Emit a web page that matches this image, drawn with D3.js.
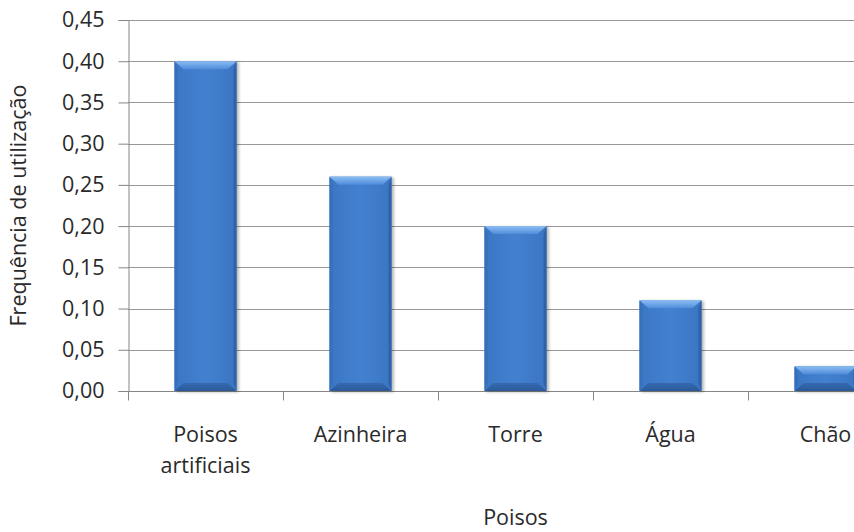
<!DOCTYPE html>
<html>
<head>
<meta charset="utf-8">
<script src="https://cdn.jsdelivr.net/npm/d3@7"></script>
<style>
  html, body { margin: 0; padding: 0; background: #fff; }
  svg { display: block; }
  text { font-family: "Open Sans", "Liberation Sans", sans-serif; fill: #2a2a2a; }
</style>
</head>
<body>
<svg id="chart" width="854" height="532"></svg>
<script>
// Frequência de utilização por tipo de poiso
const categories = ["Poisos artificiais", "Azinheira", "Torre", "Água", "Chão"];
const values = [0.40, 0.26, 0.20, 0.11, 0.03];
const yTicks = [0, 0.05, 0.10, 0.15, 0.20, 0.25, 0.30, 0.35, 0.40, 0.45];
const xTitle = "Poisos";
const yTitle = "Frequência de utilização";

const svg = d3.select("#chart");
const plot = { left: 128, right: 903, top: 20, bottom: 391 };
const fontSize = 21.5;

const x = d3.scaleBand().domain(categories).range([plot.left, plot.right]).padding(0);
const y = d3.scaleLinear().domain([0, 0.45]).range([plot.bottom, plot.top]);
const barW = x.bandwidth() / 2.5; // gap width 150%

const defs = svg.append("defs");
const topGrad = defs.append("linearGradient").attr("id", "bevelTop").attr("x1", 0).attr("y1", 0).attr("x2", 0).attr("y2", 1);
topGrad.append("stop").attr("offset", "0%").attr("stop-color", "#8cbdf3");
topGrad.append("stop").attr("offset", "100%").attr("stop-color", "#4f8cda");
const bottomGrad = defs.append("linearGradient").attr("id", "bevelBottom").attr("x1", 0).attr("y1", 0).attr("x2", 0).attr("y2", 1);
bottomGrad.append("stop").attr("offset", "0%").attr("stop-color", "#3569b0");
bottomGrad.append("stop").attr("offset", "100%").attr("stop-color", "#2b5a99");
const bodyGrad = defs.append("linearGradient").attr("id", "body").attr("x1", 0).attr("y1", 0).attr("x2", 1).attr("y2", 0);
bodyGrad.append("stop").attr("offset", "0%").attr("stop-color", "#3a76c4");
bodyGrad.append("stop").attr("offset", "50%").attr("stop-color", "#4381d0");
bodyGrad.append("stop").attr("offset", "100%").attr("stop-color", "#3a75c2");
const shadow = defs.append("filter").attr("id", "shadow").attr("x", "-20%").attr("y", "-20%").attr("width", "140%").attr("height", "140%");
shadow.append("feDropShadow").attr("dx", 2).attr("dy", 1).attr("stdDeviation", 1.6)
  .attr("flood-color", "#000").attr("flood-opacity", 0.3);

// gridlines
const grid = svg.append("g");
grid.selectAll("line").data(yTicks.filter(d => d > 0)).join("line")
  .attr("x1", plot.left).attr("x2", plot.right)
  .attr("y1", d => Math.round(y(d)) + 0.5).attr("y2", d => Math.round(y(d)) + 0.5)
  .attr("stroke", "#979797").attr("stroke-width", 1);

// y axis
const yAxis = d3.axisLeft(y).tickValues(yTicks).tickSize(10).tickPadding(14)
  .tickFormat(d => d3.format(".2f")(d).replace(".", ","));
const gy = svg.append("g").attr("transform", `translate(${plot.left + 0.5},0)`).call(yAxis);
gy.select(".domain").attr("stroke", "#868686");
gy.selectAll(".tick line").attr("stroke", "#868686");
gy.selectAll(".tick text").attr("font-size", fontSize).attr("font-family", null).style("fill", "#2a2a2a");

// x axis: ticks at category boundaries
const gx = svg.append("g").attr("transform", `translate(0,${Math.round(y(0)) + 0.5})`);
gx.append("line").attr("x1", plot.left).attr("x2", plot.right).attr("stroke", "#868686");
const bounds = categories.map(c => x(c)).concat([plot.right]);
gx.selectAll("line.tk").data(bounds).join("line").attr("class", "tk")
  .attr("x1", d => Math.round(d) + 0.5).attr("x2", d => Math.round(d) + 0.5)
  .attr("y1", 0).attr("y2", 9).attr("stroke", "#868686");

// category labels (wrapped on spaces)
const lbl = svg.append("g");
categories.forEach(c => {
  const words = c.split(" ");
  const t = lbl.append("text").attr("text-anchor", "middle").attr("font-size", fontSize)
    .attr("x", x(c) + x.bandwidth() / 2).attr("y", 442);
  words.forEach((w, i) => t.append("tspan").attr("x", x(c) + x.bandwidth() / 2).attr("dy", i ? 31 : 0).text(w));
});

// bars with bevel: thin side edges, wide diagonal corners on top and bottom
const bev = 8, side = 3, corner = 9;
const bars = svg.append("g").selectAll("g").data(categories.map((c, i) => ({ c, v: values[i] }))).join("g")
  .attr("filter", "url(#shadow)");
bars.each(function(d) {
  const g = d3.select(this);
  const x0 = x(d.c) + (x.bandwidth() - barW) / 2, x1 = x0 + barW;
  const y0 = y(d.v), y1 = y(0);
  const h = y1 - y0;
  const b = Math.min(bev, h / 2);
  const k = corner * b / bev;
  g.append("rect").attr("x", x0).attr("y", y0).attr("width", barW).attr("height", h).attr("fill", "url(#body)");
  // left / right edges
  g.append("polygon").attr("points", [[x0, y0], [x0 + side, y0 + b], [x0 + side, y1 - b], [x0, y1]].join(" "))
    .attr("fill", "#356fba");
  g.append("polygon").attr("points", [[x1, y0], [x1 - side, y0 + b], [x1 - side, y1 - b], [x1, y1]].join(" "))
    .attr("fill", "#2e63a9");
  // bottom edge
  g.append("polygon").attr("points", [[x0, y1], [x0 + k, y1 - b], [x1 - k, y1 - b], [x1, y1]].join(" "))
    .attr("fill", "url(#bevelBottom)");
  // top bevel
  g.append("polygon").attr("points", [[x0, y0], [x1, y0], [x1 - k, y0 + b], [x0 + k, y0 + b]].join(" "))
    .attr("fill", "url(#bevelTop)");
});

// titles
svg.append("text").attr("text-anchor", "middle").attr("font-size", fontSize)
  .attr("transform", `translate(26,${(plot.top + plot.bottom) / 2}) rotate(-90)`).text(yTitle);
svg.append("text").attr("text-anchor", "middle").attr("font-size", fontSize)
  .attr("x", (plot.left + plot.right) / 2).attr("y", 525).text(xTitle);
</script>
</body>
</html>
